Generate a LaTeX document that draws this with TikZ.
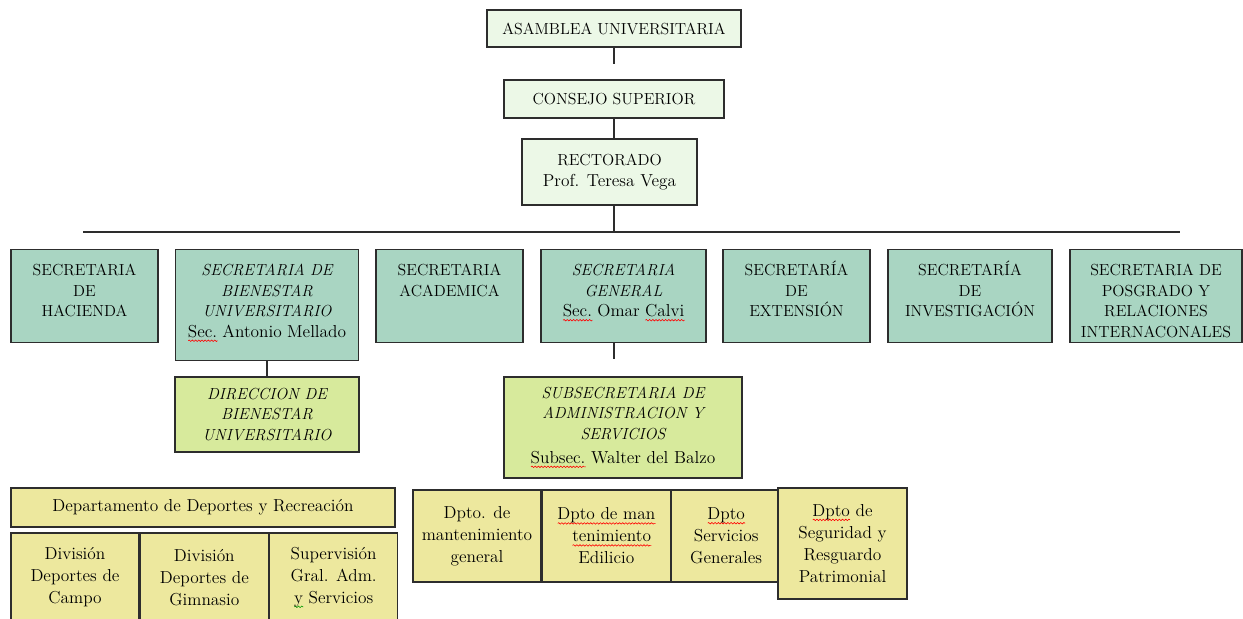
\documentclass[tikz,border=0pt]{standalone}
\usepackage{xcolor}
\usepackage{tikz}
\usetikzlibrary{positioning,decorations.pathmorphing}
\definecolor{topfill}{RGB}{236,248,231}
\definecolor{secfill}{RGB}{169,213,194}
\definecolor{dirfill}{RGB}{215,234,156}
\definecolor{deptfill}{RGB}{237,232,158}
\definecolor{edge}{RGB}{45,45,45}
\newsavebox{\wavebox}
\newcommand{\markwave}[2]{\sbox{\wavebox}{#2}\makebox[0pt][l]{\raisebox{-2.6pt}{\tikz[baseline=0pt]\draw[#1, line width=.45pt, decorate, decoration={snake, amplitude=.55pt, segment length=2.4pt}] (0pt,0pt) -- (\the\wd\wavebox,0pt);}}\usebox{\wavebox}}
\newcommand{\redwave}[1]{\markwave{red}{#1}}
\newcommand{\greenwave}[1]{\markwave{green!60!black}{#1}}
\newcommand{\pname}[1]{{\fontsize{13}{15.4}\selectfont #1}}
\tikzset{
  topbox/.style={draw=edge, line width=1pt, fill=topfill, align=center, inner sep=0pt, font=\fontsize{12}{15.4}\selectfont},
  secbox/.style 2 args={draw=edge, line width=1pt, fill=secfill, text width=#1, align=center, anchor=north, inner sep=0pt, text height=19.5pt, text depth=#2, font=\fontsize{12}{15.4}\selectfont},
  dirbox/.style={draw=edge, line width=1pt, fill=dirfill, align=center, inner sep=0pt, font=\fontsize{12}{15.2}\selectfont},
  deptbox/.style={draw=edge, line width=1pt, fill=deptfill, align=center, inner sep=0pt, font=\fontsize{13}{16.5}\selectfont},
  link/.style={draw=edge, line width=1pt},
}

\begin{document}
\begin{tikzpicture}[x=0.75pt, y=-0.75pt]
\useasboundingbox (0,0) rectangle (1243,618);
% upper levels
\node[topbox, minimum width=190.5pt, minimum height=27.75pt] (asamblea) at (614,28.5) {ASAMBLEA UNIVERSITARIA};
\node[topbox, minimum width=165pt, minimum height=28.5pt] (consejo) at (614,99) {CONSEJO SUPERIOR};
\node[topbox, minimum width=131.25pt, minimum height=49.5pt] (rectorado) at (609.5,172) {RECTORADO\\\pname{Prof. Teresa Vega}};
\coordinate (busL) at (83,232);
\coordinate (busR) at (1180,232);
\draw[link, shorten >=11.25pt] (asamblea.south) -- (asamblea.south |- consejo.north);
\draw[link] (consejo.south) -- (consejo.south |- rectorado.north);
\draw[link] (consejo.south |- rectorado.south) -- (consejo.south |- busL);
\draw[link] (busL) -- (busR);
% secretarias
\node[secbox={110.25pt}{50.25pt}] (hacienda) at (84.5,249) {SECRETARIA\\DE\\HACIENDA};
\node[secbox={137.25pt}{63.75pt}] (bienestar) at (267,249) {{\itshape SECRETARIA DE\\BIENESTAR\\UNIVERSITARIO}\\\pname{\redwave{Sec.} Antonio Mellado}};
\node[secbox={110.25pt}{50.25pt}] (academica) at (449.5,249) {SECRETARIA\\ACADEMICA};
\node[secbox={123.75pt}{50.25pt}] (general) at (623.5,249) {{\itshape SECRETARIA\\GENERAL}\\\pname{\redwave{Sec.} Omar \redwave{Calvi}}};
\node[secbox={110.25pt}{50.25pt}] (extension) at (796.5,249) {SECRETAR\'IA\\DE\\EXTENSI\'ON};
\node[secbox={123pt}{50.25pt}] (investigacion) at (970,249) {SECRETAR\'IA\\DE\\INVESTIGACI\'ON};
\node[secbox={129pt}{50.25pt}] (posgrado) at (1156,249) {SECRETARIA DE\\POSGRADO Y\\RELACIONES\\INTERNACONALES};
% direcciones
\node[dirbox, minimum width=138pt, minimum height=56.25pt] (direccion) at (267,414.5) {\itshape DIRECCION DE\\\itshape BIENESTAR\\\itshape UNIVERSITARIO};
\node[dirbox, minimum width=178.5pt, minimum height=75.75pt] (subsec) at (623,427.5) {\itshape SUBSECRETARIA DE\\\itshape ADMINISTRACION Y\\\itshape SERVICIOS\\[3pt]\pname{\redwave{Subsec.} Walter del Balzo}};
\draw[link] (bienestar.south) -- (direccion.north);
\draw[link, shorten >=12.75pt] (asamblea.south |- general.south) -- (asamblea.south |- subsec.north);
% departamentos
\node[deptbox, minimum width=288pt, minimum height=29.25pt] (deportes) at (203,507.5) {Departamento de Deportes y Recreaci\'on};
\node[deptbox, minimum width=96pt, minimum height=66.75pt] (campo) at (75,577.5) {Divisi\'on\\Deportes de\\Campo};
\node[deptbox, minimum width=96pt, minimum height=66.75pt, right=0pt of campo] (gimnasio) {Divisi\'on\\Deportes de\\Gimnasio};
\node[deptbox, minimum width=96pt, minimum height=66.75pt, right=0pt of gimnasio] (supervision) {Supervisi\'on\\Gral. Adm.\\\greenwave{y} Servicios};
\node[deptbox, minimum width=96pt, minimum height=69pt] (mantenimiento) at (477,536) {Dpto. de\\mantenimiento\\general};
\node[deptbox, minimum width=96pt, minimum height=69pt, right=0pt of mantenimiento] (edilicio) {\redwave{Dpto de man}\\\hspace*{8pt}\redwave{tenimiento}\\Edilicio};
\node[deptbox, minimum width=81.75pt, minimum height=69pt, right=0pt of edilicio] (servicios) {\redwave{Dpto}\\Servicios\\Generales};
\node[deptbox, minimum width=96.75pt, minimum height=83.25pt] (seguridad) at (842.5,543.5) {\redwave{Dpto} de\\Seguridad y\\Resguardo\\Patrimonial};
\end{tikzpicture}
\end{document}
